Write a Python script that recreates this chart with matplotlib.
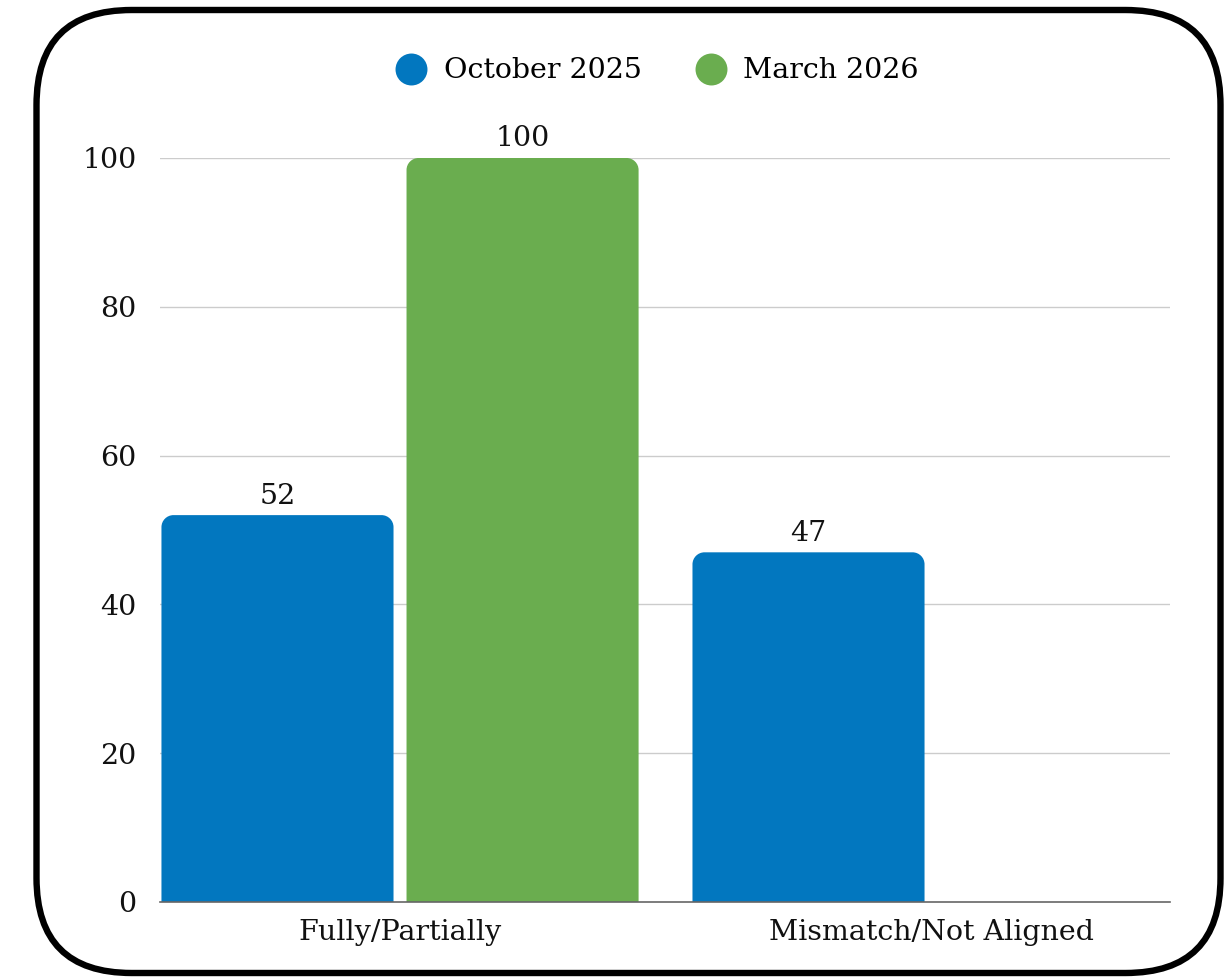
import numpy as np
import matplotlib
matplotlib.use("Agg")
import matplotlib.pyplot as plt
from matplotlib.path import Path
from matplotlib.patches import PathPatch, FancyBboxPatch
from matplotlib.lines import Line2D

categories = ["Fully/Partially", "Mismatch/Not Aligned"]
series_names = ["October 2025", "March 2026"]
oct_2025 = [52, 47]
mar_2026 = [100, 0]
series_colors = ["#0277BF", "#6AAD4F"]
y_ticks = [0, 20, 40, 60, 80, 100]

plt.rcParams["font.family"] = ["DejaVu Serif"]
FS = 20.5

W, H = 1226, 977
fig = plt.figure(figsize=(W / 100, H / 100), dpi=100)
ax = fig.add_axes([160 / W, 75 / H, 1010 / W, 744 / H])

bar_w = 0.437
gap = 0.0245
xlim = (-0.452, 1.45)
ax.set_xlim(*xlim)
ax.set_ylim(0, 100)

# pixel -> data scale for rounding the bar tops
px_x = (xlim[1] - xlim[0]) / 1010
px_y = 100 / 744
radius_px = 12


def rounded_bar(x0, width, height, color):
    rx = min(radius_px * px_x, width / 2)
    ry = min(radius_px * px_y, height)
    k = 0.5523
    x1 = x0 + width
    verts = [
        (x0, 0), (x0, height - ry),
        (x0, height - ry + k * ry), (x0 + rx - k * rx, height), (x0 + rx, height),
        (x1 - rx, height),
        (x1 - rx + k * rx, height), (x1, height - ry + k * ry), (x1, height - ry),
        (x1, 0), (x0, 0),
    ]
    codes = [Path.MOVETO, Path.LINETO,
             Path.CURVE4, Path.CURVE4, Path.CURVE4,
             Path.LINETO,
             Path.CURVE4, Path.CURVE4, Path.CURVE4,
             Path.LINETO, Path.CLOSEPOLY]
    ax.add_patch(PathPatch(Path(verts, codes), facecolor=color,
                           edgecolor="none", zorder=3))


x = np.arange(len(categories))
offsets = [-(bar_w + gap) / 2, (bar_w + gap) / 2]
for vals, off, col in zip([oct_2025, mar_2026], offsets, series_colors):
    for xi, v in zip(x, vals):
        if v <= 0:
            continue
        rounded_bar(xi + off - bar_w / 2, bar_w, v, col)
        ax.annotate(str(v), (xi + off, v), xytext=(0, 4),
                    textcoords="offset points", ha="center", va="bottom",
                    fontsize=FS, color="#111111", annotation_clip=False)

# grid and axes styling
ax.set_yticks(y_ticks)
ax.set_yticklabels([str(t) for t in y_ticks], fontsize=FS, color="#111111")
ax.set_xticks(x)
ax.set_xticklabels(categories, fontsize=FS, color="#111111")
ax.tick_params(axis="both", length=0)
ax.tick_params(axis="y", pad=17)
ax.tick_params(axis="x", pad=12)
for t in y_ticks[1:]:
    ax.axhline(t, color="#cccccc", lw=1, zorder=1)
for s in ["top", "right", "left"]:
    ax.spines[s].set_visible(False)
ax.spines["bottom"].set_color("#666666")
ax.spines["bottom"].set_linewidth(1.2)
ax.spines["bottom"].set_zorder(4)

# legend above the plot
handles = [Line2D([], [], marker="o", linestyle="none", markersize=23,
                  markerfacecolor=c, markeredgecolor="none") for c in series_colors]
fig.legend(handles, series_names, loc="center", ncol=2,
           bbox_to_anchor=(658 / W, 1 - 71 / H), frameon=False,
           fontsize=FS, handletextpad=0.65, columnspacing=1.9,
           handlelength=1.0)

# rounded card outline
border = FancyBboxPatch((0.365, 0.04), 11.84, 9.63,
                        boxstyle="round,pad=0,rounding_size=0.95",
                        transform=fig.dpi_scale_trans, facecolor="none",
                        edgecolor="black", linewidth=4.6, zorder=10)
fig.patches.append(border)

fig.savefig("out.png", dpi=100)
